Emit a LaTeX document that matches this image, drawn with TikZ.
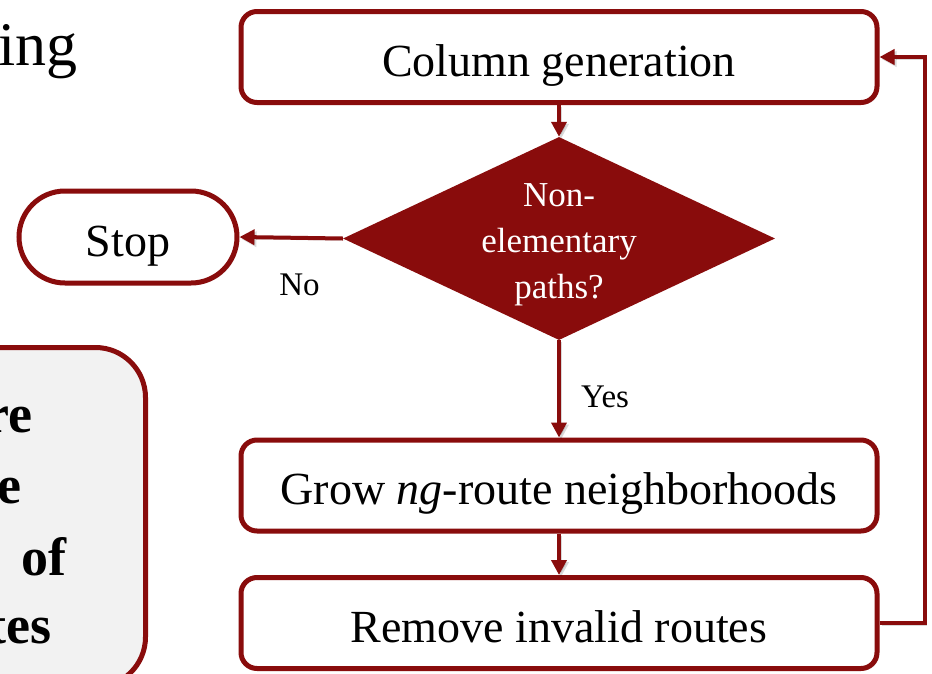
\documentclass[tikz,border=0pt]{standalone}
\usepackage{fontspec}
\setmainfont{Liberation Serif}
\usetikzlibrary{arrows.meta,shapes.geometric,shadows}
\definecolor{flowred}{RGB}{137,12,12}
\definecolor{notegray}{RGB}{242,242,242}

\begin{document}
\begin{tikzpicture}[
  x=1pt,
  y=-1pt,
  flow box/.style={
    draw=flowred,
    line width=5pt,
    fill=white,
    rounded corners=16pt,
    minimum width=636pt,
    minimum height=91pt,
    inner sep=0pt,
    text height=38pt,
    text depth=0pt,
    font=\fontsize{46}{52}\selectfont,
    drop shadow={opacity=0.15, shadow xshift=2pt, shadow yshift=-2pt}
  },
  stop box/.style={
    flow box,
    rounded corners=46pt,
    minimum width=218pt,
    minimum height=92pt
  },
  decision/.style={
    shape=diamond,
    fill=flowred,
    text=white,
    aspect=2.13,
    minimum width=432pt,
    minimum height=203pt,
    inner sep=-10pt,
    text height=127pt,
    align=center,
    font=\fontsize{35}{46}\selectfont
  },
  connector/.style={
    draw=flowred,
    line width=4pt,
    -{Triangle[length=15pt,width=15pt]},
    preaction={draw=black, opacity=0.15, transform canvas={shift={(2pt,-2pt)}}}
  },
  edge label/.style={inner sep=0pt, font=\fontsize{33}{40}\selectfont},
  note box/.style={
    draw=flowred,
    line width=5pt,
    fill=notegray,
    rounded corners=50pt,
    minimum width=245.5pt,
    minimum height=339.5pt
  },
  note line/.style={inner sep=0pt, font=\fontsize{54}{64}\selectfont\bfseries}
]
  \useasboundingbox (0,0) rectangle (932,673);
  \fill[white] (0,0) rectangle (932,673);

  % slide text cut off on the left
  \node[inner sep=0pt, anchor=base east, font=\fontsize{62}{70}\selectfont] (heading) at (78,65) {ing};
  \node[note box] (note) at (22.75,517.25) {};
  \foreach [count=\row] \noteText/\xEnd/\yBase in {re/33/432, e/22/503, of/67/575, tes/52/643} {
    \node[note line, anchor=base east] (noteline\row) at (\xEnd,\yBase) {\noteText};
  }

  % flow chart
  \node[flow box] (colgen) at (559,57) {Column generation};
  \node[decision] (decide) at (559,238.5) {Non-\\elementary\\paths?};
  \node[stop box] (stop) at (128,237) {Stop};
  \node[flow box] (grow) at (559,485.5) {Grow \textit{ng}-route neighborhoods};
  \node[flow box] (remove) at (559,623) {Remove invalid routes};

  \draw[connector] (colgen.south) -- (decide.north);
  \draw[connector] (decide.west) -- node[edge label, pos=0.42, below=34pt] (nolabel) {No} (stop.east);
  \draw[connector] (decide.south) -- node[edge label, pos=0.58, anchor=west, xshift=20pt] (yeslabel) {Yes} (grow.north);
  \draw[connector] (grow.south) -- (remove.north);
  \draw[connector] (remove.east) -- ++(45,0) |- (colgen.east);
\end{tikzpicture}
\end{document}
